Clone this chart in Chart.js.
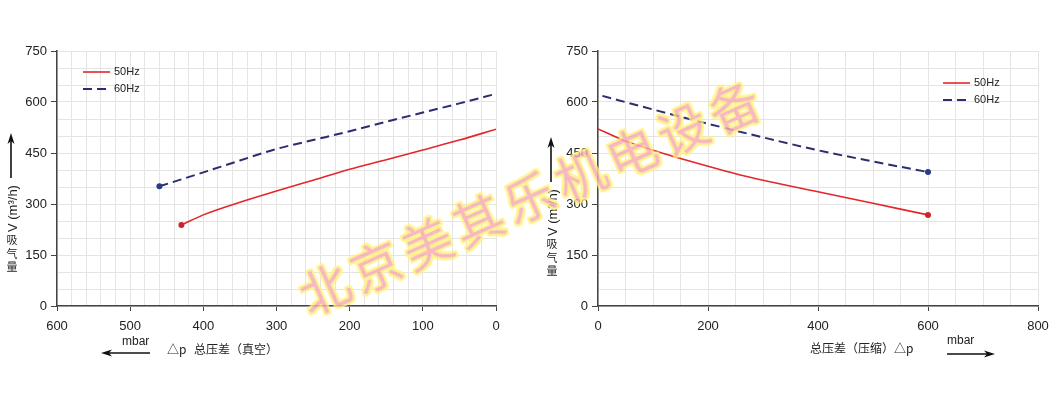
<!DOCTYPE html>
<html>
<head>
<meta charset="utf-8">
<script src="https://cdn.jsdelivr.net/npm/chart.js@4.4.1/dist/chart.umd.min.js"></script>
<style>
    html, body { margin: 0; padding: 0; background: #fff; }
    #wrap { position: relative; width: 1052px; height: 397px; overflow: hidden; }
    #left { position: absolute; left: 0; top: 0; }
    #right { position: absolute; left: 525px; top: 0; }
    #mark {
        position: absolute; left: 531px; top: 194px;
        transform: translate(-50%, -50%) rotate(-24deg);
        font: 50px "Noto Sans CJK SC", sans-serif;
        letter-spacing: 6px; white-space: nowrap;
        color: #f7a9b3; opacity: 0.82; pointer-events: none;
        text-shadow: 2px 0 0 #fff27c, -2px 0 0 #fff27c, 0 2px 0 #fff27c, 0 -2px 0 #fff27c,
                     2px 2px 0 #fff27c, -2px -2px 0 #fff27c, 2px -2px 0 #fff27c, -2px 2px 0 #fff27c,
                     0 0 4px #fff27c;
    }
</style>
</head>
<body>
<div id="wrap">
    <canvas id="left" width="525" height="397"></canvas>
    <canvas id="right" width="527" height="397"></canvas>
    <div id="mark">北京美其乐机电设备</div>
</div>
<script>
(function () {
    "use strict";

    // ── Data ──

    // vacuum side: pressure difference in mbar, flow in m³/h
    var vacPressure50 = [430, 400, 350, 300, 250, 200, 150, 100, 50, 0];
    var vacFlow50     = [238, 268, 305, 338, 370, 402, 430, 459, 488, 520];
    var vacPressure60 = [460, 400, 350, 300, 250, 200, 150, 100, 50, 0];
    var vacFlow60     = [352, 393, 428, 462, 488, 514, 542, 569, 596, 624];

    // compression side
    var cmpPressure50 = [0, 50, 100, 150, 200, 250, 300, 400, 500, 600];
    var cmpFlow50     = [521, 485, 458, 434, 411, 389, 370, 336, 302, 268];
    var cmpPressure60 = [8, 100, 200, 300, 400, 500, 600];
    var cmpFlow60     = [618, 578, 536, 496, 458, 425, 394];

    var yTickLabels   = [0, 150, 300, 450, 600, 750];
    var vacTickLabels = [0, 100, 200, 300, 400, 500, 600];
    var cmpTickLabels = [0, 200, 400, 600, 800];

    var seriesNames = ["50Hz", "60Hz"];

    // ── Helpers ──

    var FONT = '"Liberation Sans", Arial, sans-serif';
    var CJK = '"Noto Sans CJK SC", sans-serif';
    var RED = "#e4262b";
    var BLUE = "#2b2d6e";

    function toPoints(xs, ys) {
        return xs.map(function (x, i) { return { x: x, y: ys[i] }; });
    }

    function labelOnly(list) {
        return function (v) { return list.indexOf(v) >= 0 ? String(v) : ""; };
    }

    function tickMarkColor(list) {
        return function (c) {
            return c.tick && list.indexOf(c.tick.value) >= 0 ? "#444" : "rgba(0,0,0,0)";
        };
    }

    function arrow(ctx, x1, y1, x2, y2) {
        var a = Math.atan2(y2 - y1, x2 - x1);
        ctx.save();
        ctx.strokeStyle = "#111";
        ctx.fillStyle = "#111";
        ctx.lineWidth = 1.6;
        ctx.beginPath();
        ctx.moveTo(x1, y1);
        ctx.lineTo(x2 - Math.cos(a) * 6, y2 - Math.sin(a) * 6);
        ctx.stroke();
        ctx.translate(x2, y2);
        ctx.rotate(a);
        ctx.beginPath();
        ctx.moveTo(0, 0);
        ctx.lineTo(-11, -3.5);
        ctx.lineTo(-8, 0);
        ctx.lineTo(-11, 3.5);
        ctx.closePath();
        ctx.fill();
        ctx.restore();
    }

    function yTitle(ctx, x, bottom) {
        // upright CJK glyphs stacked, then the rotated unit text
        ctx.save();
        ctx.fillStyle = "#222";
        ctx.font = "11px " + CJK;
        ctx.textAlign = "center";
        ctx.textBaseline = "middle";
        ctx.fillText("量", x, bottom);
        ctx.fillText("气", x, bottom - 13);
        ctx.fillText("吸", x, bottom - 27);
        ctx.translate(x + 1, bottom - 35);
        ctx.rotate(-Math.PI / 2);
        ctx.textAlign = "left";
        ctx.font = "13px " + FONT;
        ctx.fillText("V (m³/h)", 0, 0);
        ctx.restore();
        arrow(ctx, x - 1, bottom - 89, x - 1, bottom - 134);
    }

    function legend(ctx, x, y) {
        ctx.save();
        ctx.lineWidth = 1.6;
        ctx.strokeStyle = RED;
        ctx.beginPath();
        ctx.moveTo(x, y);
        ctx.lineTo(x + 27, y);
        ctx.stroke();
        ctx.strokeStyle = BLUE;
        ctx.lineWidth = 2;
        ctx.setLineDash([9, 5]);
        ctx.beginPath();
        ctx.moveTo(x, y + 17);
        ctx.lineTo(x + 25, y + 17);
        ctx.stroke();
        ctx.setLineDash([]);
        ctx.fillStyle = "#222";
        ctx.font = "11px " + FONT;
        ctx.textBaseline = "middle";
        ctx.fillText(seriesNames[0], x + 31, y);
        ctx.fillText(seriesNames[1], x + 31, y + 17);
        ctx.restore();
    }

    function datasets(p50, f50, p60, f60, dotAtEnd) {
        function dot(len) {
            return function (c) {
                var want = dotAtEnd ? len - 1 : 0;
                return c.dataIndex === want ? 3 : 0;
            };
        }
        return [
            {
                label: seriesNames[0],
                data: toPoints(p50, f50),
                borderColor: RED,
                backgroundColor: "#c9262c",
                borderWidth: 1.6,
                pointRadius: dot(p50.length),
                pointBorderWidth: 0,
                cubicInterpolationMode: "monotone"
            },
            {
                label: seriesNames[1],
                data: toPoints(p60, f60),
                borderColor: BLUE,
                backgroundColor: "#2b3a8a",
                borderWidth: 2,
                borderDash: [9, 5],
                pointRadius: dot(p60.length),
                pointBorderWidth: 0,
                cubicInterpolationMode: "monotone"
            }
        ];
    }

    function buildOptions(o) {
        return {
            responsive: false,
            animation: false,
            layout: { padding: { left: 0, right: o.padRight, top: 51, bottom: 61 } },
            plugins: { legend: { display: false }, tooltip: { enabled: false } },
            scales: {
                x: {
                    type: "linear",
                    min: 0,
                    max: o.xMax,
                    reverse: o.reverse,
                    afterFit: function (s) {
                        s.height = 30;
                        s.paddingLeft = 0;
                        s.paddingRight = 0;
                    },
                    ticks: {
                        stepSize: o.xStep,
                        autoSkip: false,
                        maxRotation: 0,
                        minRotation: 0,
                        padding: 8,
                        color: "#222",
                        font: { family: FONT, size: 13 },
                        callback: labelOnly(o.xLabels)
                    },
                    grid: { color: "#e4e4e4", lineWidth: 1, tickLength: 5, tickColor: tickMarkColor(o.xLabels) },
                    border: { color: "#444", width: 1.5 }
                },
                y: {
                    type: "linear",
                    min: 0,
                    max: 750,
                    afterFit: function (s) {
                        s.width = o.yWidth;
                        s.paddingTop = 0;
                        s.paddingBottom = 0;
                    },
                    ticks: {
                        stepSize: 50,
                        autoSkip: false,
                        padding: 4,
                        color: "#222",
                        font: { family: FONT, size: 13 },
                        callback: labelOnly(yTickLabels)
                    },
                    grid: { color: "#e4e4e4", lineWidth: 1, tickLength: 6, tickColor: tickMarkColor(yTickLabels) },
                    border: { color: "#444", width: 1.5 }
                }
            }
        };
    }

    // ── Charts ──

    new Chart(document.getElementById("left"), {
        type: "line",
        data: { datasets: datasets(vacPressure50, vacFlow50, vacPressure60, vacFlow60, false) },
        options: buildOptions({ xMax: 600, xStep: 20, reverse: true, xLabels: vacTickLabels, yWidth: 57, padRight: 29 }),
        plugins: [{
            id: "vacDecor",
            afterDraw: function (chart) {
                var ctx = chart.ctx;
                legend(ctx, 83, 72);
                yTitle(ctx, 12, 267);
                ctx.save();
                ctx.fillStyle = "#222";
                ctx.font = "12px " + FONT;
                ctx.textBaseline = "middle";
                ctx.fillText("mbar", 122, 342);
                ctx.font = "12px " + CJK;
                ctx.fillText("△p", 167, 349);
                ctx.fillText("总压差（真空）", 194, 349);
                ctx.restore();
                arrow(ctx, 150, 353, 101, 353);
            }
        }]
    });

    new Chart(document.getElementById("right"), {
        type: "line",
        data: { datasets: datasets(cmpPressure50, cmpFlow50, cmpPressure60, cmpFlow60, true) },
        options: buildOptions({ xMax: 800, xStep: 50, reverse: false, xLabels: cmpTickLabels, yWidth: 73, padRight: 14 }),
        plugins: [{
            id: "cmpDecor",
            afterDraw: function (chart) {
                var ctx = chart.ctx;
                legend(ctx, 418, 83);
                yTitle(ctx, 27, 271);
                ctx.save();
                ctx.fillStyle = "#222";
                ctx.font = "12px " + CJK;
                ctx.textBaseline = "middle";
                ctx.fillText("总压差（压缩）△p", 285, 348);
                ctx.font = "12px " + FONT;
                ctx.fillText("mbar", 422, 341);
                ctx.restore();
                arrow(ctx, 422, 354, 470, 354);
            }
        }]
    });
})();
</script>
</body>
</html>
